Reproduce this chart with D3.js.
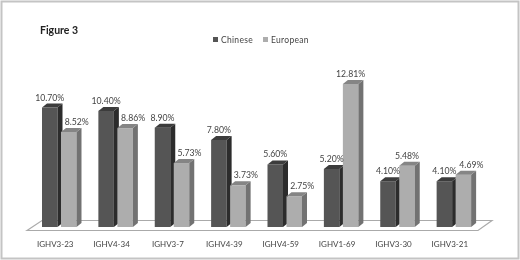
<!DOCTYPE html>
<html>
<head>
<meta charset="utf-8">
<script src="https://cdn.jsdelivr.net/npm/d3@7"></script>
<style>
  html, body { margin: 0; background: #fff; }
  #chart { width: 520px; height: 260px; filter: blur(0.5px); }
  svg { display: block; font-family: Lato, "Open Sans", sans-serif; }
</style>
</head>
<body>
<div id="chart"></div>
<script>
const genes = ['IGHV3-23', 'IGHV4-34', 'IGHV3-7', 'IGHV4-39', 'IGHV4-59', 'IGHV1-69', 'IGHV3-30', 'IGHV3-21']
const chinese = [10.70, 10.40, 8.90, 7.80, 5.60, 5.20, 4.10, 4.10]
const european = [8.52, 8.86, 5.73, 3.73, 2.75, 12.81, 5.48, 4.69]
const seriesNames = ['Chinese', 'European']

const width = 520
const height = 260
const depthX = 5
const depthY = 4

const colors = {
  Chinese: { front: '#555555', side: '#2c2c2c', top: '#3c3c3c' },
  European: { front: '#adadad', side: '#727272', top: '#858585' }
}

const x = d3.scaleBand().domain(genes).range([36, 487])
const series = d3.scaleBand().domain(seriesNames).range([0, 34.5]).paddingInner(0.184)
const y = d3.scaleLinear().domain([0, 12.81]).range([227, 84])

const svg = d3.select('#chart').append('svg')
  .attr('width', width)
  .attr('height', height)

// picture frame
svg.append('rect')
  .attr('x', 1.5).attr('y', 1.5)
  .attr('width', width - 3).attr('height', height - 3)
  .attr('fill', '#fff')
  .attr('stroke', '#c4c4c4')
  .attr('stroke-width', 2)

// floor of the 3d plot
const floorY = y(0) + 3.5
svg.append('path')
  .attr('d', d3.line()([
    [x.range()[0] - 9, floorY],
    [x.range()[0] + 6, floorY - 10],
    [x.range()[1] + 5, floorY - 10],
    [x.range()[1] - 9, floorY],
  ]) + 'Z')
  .attr('fill', '#fff')
  .attr('stroke', '#aaa')
  .attr('stroke-width', 1.2)

const rows = genes.map((g, i) => ({ gene: g, Chinese: chinese[i], European: european[i] }))

const groups = svg.selectAll('g.group')
  .data(rows)
  .enter()
  .append('g')
  .attr('class', 'group')
  .attr('transform', d => `translate(${x(d.gene) + 6},0)`)

const bars = groups.selectAll('g.bar')
  .data(d => seriesNames.map(s => ({ gene: d.gene, name: s, value: d[s] })))
  .enter()
  .append('g')
  .attr('class', 'bar')
  .attr('transform', d => `translate(${series(d.name)},0)`)

const bw = series.bandwidth()

// front, side and top faces
bars.append('rect')
  .attr('y', d => y(d.value))
  .attr('width', bw)
  .attr('height', d => y(0) - y(d.value))
  .attr('fill', d => colors[d.name].front)

bars.append('path')
  .attr('d', d => d3.line()([
    [bw, y(d.value)], [bw + depthX, y(d.value) - depthY],
    [bw + depthX, y(0) - depthY], [bw, y(0)]
  ]) + 'Z')
  .attr('fill', d => colors[d.name].side)

bars.append('path')
  .attr('d', d => d3.line()([
    [0, y(d.value)], [depthX, y(d.value) - depthY],
    [bw + depthX, y(d.value) - depthY], [bw, y(d.value)]
  ]) + 'Z')
  .attr('fill', d => colors[d.name].top)

// value labels go on top of every bar
// most european labels sit to the right of their bar, these two don't
const centredLabels = ['IGHV1-69', 'IGHV3-30']
const labelX = d => x(d.gene) + 6 + series(d.name) + bw / 2 +
  (d.name === 'European' && !centredLabels.includes(d.gene) ? 8 : 0)

svg.selectAll('text.value')
  .data(rows.flatMap(r => seriesNames.map(s => ({ gene: r.gene, name: s, value: r[s] }))))
  .enter()
  .append('text')
  .attr('class', 'value')
  .attr('x', labelX)
  .attr('y', d => y(d.value) - 7)
  .attr('text-anchor', 'middle')
  .attr('font-size', 8.7)
  .attr('fill', '#444')
  .text(d => d.value.toFixed(2) + '%')

// category labels
const axis = svg.append('g')
  .attr('transform', `translate(-9,${y(0)})`)
  .call(d3.axisBottom(x).tickSize(0).tickPadding(14.5))
axis.select('.domain').remove()
axis.selectAll('text')
  .attr('font-size', 8)
  .attr('font-family', 'Lato, "Open Sans", sans-serif')
  .attr('fill', '#444')

svg.append('text')
  .attr('x', 40).attr('y', 34)
  .attr('font-size', 10.5)
  .attr('font-weight', 'bold')
  .attr('fill', '#222')
  .text('Figure 3')

// legend
const legendX = d3.scaleOrdinal().domain(seriesNames).range([213, 263])
const legend = svg.selectAll('g.legend')
  .data(seriesNames)
  .enter()
  .append('g')
  .attr('class', 'legend')
  .attr('transform', d => `translate(${legendX(d)},37)`)
legend.append('rect')
  .attr('width', 5).attr('height', 5)
  .attr('fill', d => colors[d].front)
legend.append('text')
  .attr('x', 8).attr('y', 6)
  .attr('font-size', 8.5)
  .attr('letter-spacing', 0.3)
  .attr('fill', '#444')
  .text(d => d)
</script>
</body>
</html>
